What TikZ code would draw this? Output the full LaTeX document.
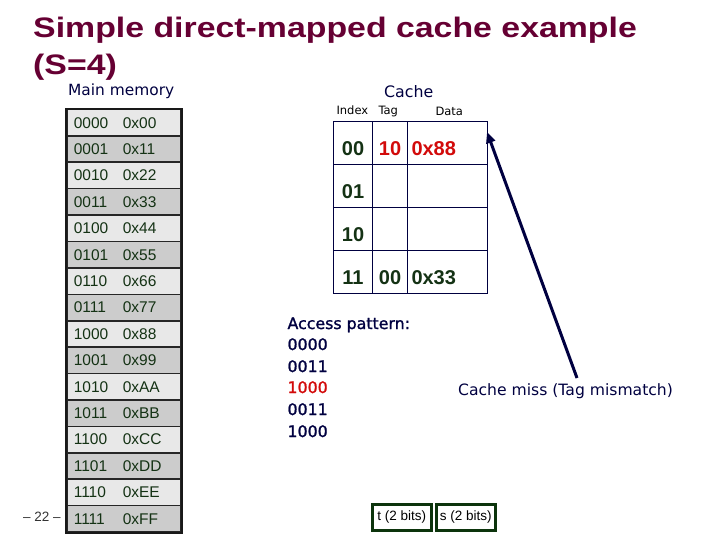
\documentclass[tikz,border=0pt]{standalone}
\usepackage{fontspec}
\setmainfont{Liberation Sans}
\newfontfamily\titlefont[FakeStretch=1.2]{Liberation Sans}
\newfontfamily\tahoma{DejaVu Sans}
\newfontfamily\tahomasemi[FakeBold=1.3]{DejaVu Sans}
\usetikzlibrary{arrows.meta,positioning}

\definecolor{titlered}{RGB}{102,0,51}
\definecolor{navy}{RGB}{0,0,64}
\definecolor{memgreen}{RGB}{20,50,20}
\definecolor{mem0}{RGB}{232,232,232}
\definecolor{mem1}{RGB}{204,204,204}
\definecolor{cachered}{RGB}{210,10,10}
\definecolor{bitgreen}{RGB}{12,52,12}

\tikzset{
  memrow/.style={draw=black!85, line width=1.6pt, anchor=west,
    text width=100pt, align=left, inner xsep=7pt, inner ysep=0pt,
    minimum height=26.4pt, text height=10.7pt, text depth=0pt,
    font=\fontsize{15.5}{15.5}\selectfont, text=memgreen},
  cachecell/.style={draw=navy, line width=1pt, anchor=north west,
    inner sep=0pt, minimum height=43pt, text height=25.5pt, text depth=0pt,
    font=\fontsize{20}{20}\selectfont\bfseries},
  hdr/.style={anchor=base west, font=\tahoma\fontsize{11.5}{11.5}\selectfont},
  pattern/.style={anchor=base west, text=navy,
    font=\tahomasemi\fontsize{15.8}{15.8}\selectfont},
  bitbox/.style={draw=bitgreen, line width=2.5pt, minimum width=59pt,
    minimum height=26pt, inner xsep=2pt, font=\fontsize{13.5}{13.5}\selectfont},
  missarrow/.style={draw=navy, line width=3pt,
    -{Triangle[length=11pt,width=9pt]}}
}

\begin{document}
\begin{tikzpicture}[x=1pt,y=-1pt]
  \useasboundingbox (0,0) rectangle (720,540);

  % title
  \node[anchor=base west, inner sep=0pt, text=titlered,
    font=\titlefont\bfseries\fontsize{28.2}{28.2}\selectfont] (title) at (33,38)
    {Simple direct-mapped cache example};
  \node[anchor=base west, inner sep=0pt, text=titlered,
    font=\titlefont\bfseries\fontsize{28.2}{28.2}\selectfont] (titletwo) at (33,75) {(S=4)};

  % main memory
  \node[anchor=base west, inner sep=0pt, text=navy,
    font=\tahoma\fontsize{15.4}{15.4}\selectfont] (memlabel) at (68,96) {Main memory};
  \foreach \addr/\val [count=\i from 0, evaluate=\i as \shade using {int(mod(\i,2))}] in
    {0000/00, 0001/11, 0010/22, 0011/33, 0100/44, 0101/55, 0110/66, 0111/77,
     1000/88, 1001/99, 1010/AA, 1011/BB, 1100/CC, 1101/DD, 1110/EE, 1111/FF}
    \node[memrow, fill=mem\shade] (m\i) at (66,122.7+26.4*\i)
      {\makebox[49pt][l]{\addr}0x\val};
  \draw[line width=2pt, black!90] (m0.north west) rectangle (m15.south east);

  % cache
  \node[anchor=base west, inner sep=0pt, text=navy,
    font=\tahoma\fontsize{15.8}{15.8}\selectfont] (cachelabel) at (384,98) {Cache};
  \node[hdr] (hidx) at (333,115) {Index};
  \node[hdr] (htag) at (375,115) {Tag};
  \node[hdr] (hdata) at (432,116) {Data};
  \foreach \idx/\tag/\data/\col [count=\i from 0] in
    {00/10/0x88/cachered, 01/{}/{}/memgreen, 10/{}/{}/memgreen, 11/00/0x33/memgreen} {
    \node[cachecell, minimum width=39pt, text=memgreen] (idx\i) at (333,121+43*\i) {\idx};
    \node[cachecell, minimum width=35pt, text=\col] (tag\i) at (372,121+43*\i) {\tag};
    \node[cachecell, text width=72pt, align=left, inner xsep=4pt, text=\col] (dat\i)
      at (407,121+43*\i) {\data};
  }

  % access pattern
  \node[pattern] (pat) at (284,329) {Access pattern:};
  \foreach \a/\col/\y [count=\i] in
    {0000/navy/350, 0011/navy/372, 1000/cachered/393, 0011/navy/415, 1000/navy/437}
    \node[pattern, text=\col] (acc\i) at (284,\y) {\a};

  % miss note
  \node[anchor=base west, inner sep=0pt, text=navy,
    font=\tahoma\fontsize{15.6}{15.6}\selectfont] (miss) at (458,395)
    {Cache miss (Tag mismatch)};
  \coordinate (misstail) at (577,378);
  \coordinate (misstip) at (487,132);
  \draw[missarrow] (misstail) -- (misstip);

  % address bits
  \node[bitbox, anchor=north west] (tbits) at (371,503) {t (2 bits)};
  \node[bitbox, right=2.5pt of tbits] (sbits) {s (2 bits)};

  \node[text=black!80, font=\fontsize{13.5}{13.5}\selectfont] (pagenum) at (42,517) {-- 22 --};
\end{tikzpicture}
\end{document}
